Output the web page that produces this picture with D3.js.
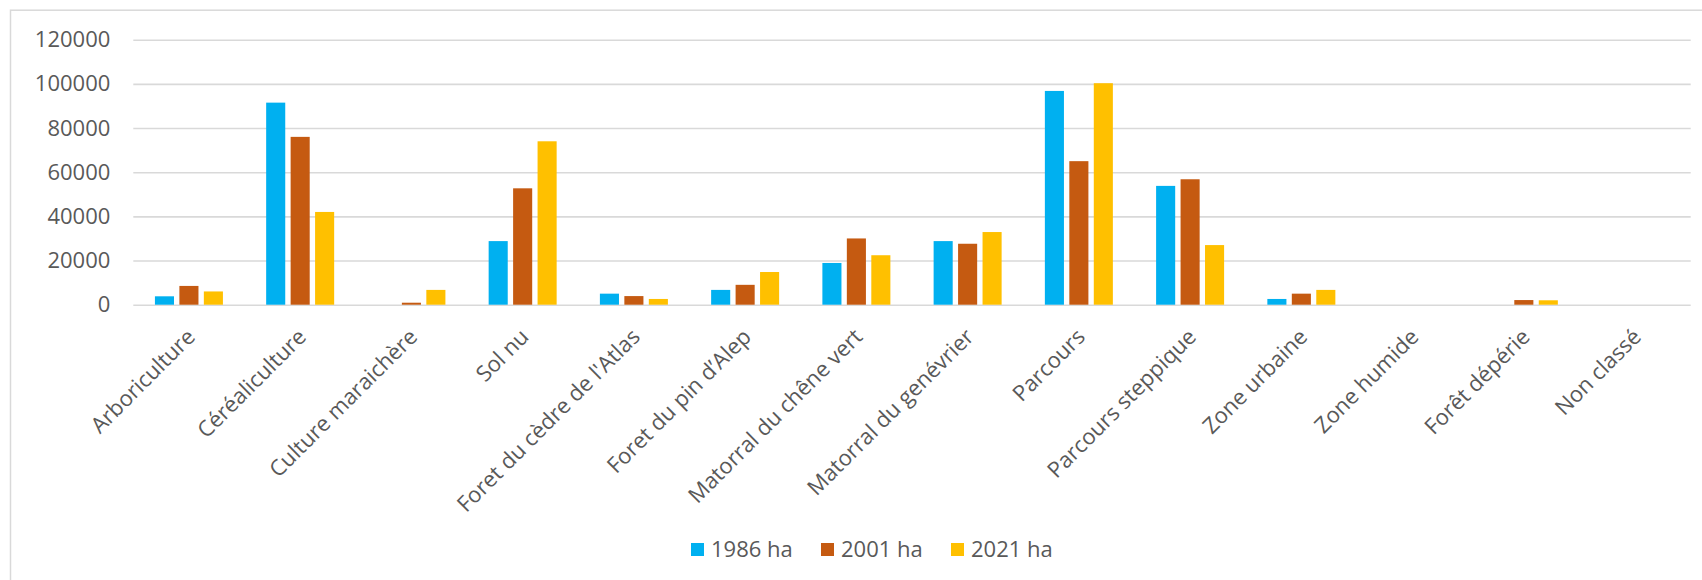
<!DOCTYPE html>
<html>
<head>
<meta charset="utf-8">
<script src="https://cdn.jsdelivr.net/npm/d3@7"></script>
<style>
    body { margin: 0; background: #fff; }
    svg { display: block; font-family: "Open Sans", sans-serif; }
    svg text { font-family: "Open Sans", sans-serif; }
</style>
</head>
<body>
<div id="chart"></div>
<script>
(function () {
    'use strict';

    // occupation du sol (ha)
    const categories = [
        'Arboriculture',
        'Céréaliculture',
        'Culture maraichère',
        'Sol nu',
        "Foret du cèdre de l'Atlas",
        'Foret du pin d’Alep',
        'Matorral du chêne vert',
        'Matorral du genévrier',
        'Parcours',
        'Parcours steppique',
        'Zone urbaine',
        'Zone humide',
        'Forêt dépérie',
        'Non classé'
    ];
    const seriesNames = ['1986 ha', '2001 ha', '2021 ha'];
    const v1986 = [3800, 91500, 0, 28800, 5000, 6700, 18900, 28800, 96800, 53800, 2600, 0, 0, 0];
    const v2001 = [8500, 76000, 900, 52700, 3900, 9000, 30000, 27600, 65000, 56800, 5000, 0, 2100, 0];
    const v2021 = [6000, 42000, 6700, 74000, 2600, 14800, 22400, 32900, 100300, 27000, 6700, 0, 2000, 0];
    const yTicks = [0, 20000, 40000, 60000, 80000, 100000, 120000];

    const colors = ['#00b0f0', '#c55a11', '#ffc000'];

    let width = 1702;
    let height = 580;
    let plot = { left: 133.3, right: 1690.7, top: 39.7, bottom: 304.7 };

    let data = categories.map(function (c, i) {
        return { cat: c, values: [v1986[i], v2001[i], v2021[i]] };
    });

    let svg = d3.select('#chart').append('svg')
        .attr('width', width)
        .attr('height', height);

    svg.append('rect')
        .attr('width', width)
        .attr('height', height)
        .style('fill', '#fff');

    // cadre du graphique
    svg.append('rect')
        .attr('x', 10.5)
        .attr('y', 10.2)
        .attr('width', width + 20)
        .attr('height', height + 20)
        .style('fill', 'none')
        .style('stroke', '#d9d9d9')
        .style('stroke-width', 1.5);

    let x0 = d3.scaleBand()
        .domain(categories)
        .range([plot.left, plot.right])
        .padding(0);

    let groupWidth = 68;
    let x1 = d3.scaleBand()
        .domain(seriesNames)
        .range([(x0.bandwidth() - groupWidth) / 2, (x0.bandwidth() + groupWidth) / 2])
        .paddingInner(0.22);

    let y = d3.scaleLinear()
        .domain([0, 120000])
        .range([plot.bottom, plot.top]);

    let yAxis = d3.axisLeft(y)
        .tickValues(yTicks)
        .tickSize(-(plot.right - plot.left))
        .tickPadding(23)
        .tickFormat(function (d) { return d.toString(); });

    let gy = svg.append('g')
        .attr('class', 'y-axis')
        .attr('transform', 'translate(' + plot.left + ',0)')
        .call(yAxis)
        .attr('font-family', null)
        .attr('font-size', null);
    gy.select('.domain').remove();
    gy.selectAll('line')
        .style('stroke', '#d9d9d9')
        .style('stroke-width', 1.6);
    gy.selectAll('text')
        .style('font-family', '"Open Sans", sans-serif')
        .style('font-size', '22px')
        .style('fill', '#595959');

    let groups = svg.append('g')
        .selectAll('g')
        .data(data)
        .enter()
        .append('g')
        .attr('transform', function (d) { return 'translate(' + x0(d.cat) + ',0)'; });

    groups.selectAll('rect')
        .data(function (d) {
            return d.values.map(function (v, k) { return { name: seriesNames[k], value: v, k: k }; });
        })
        .enter()
        .append('rect')
        .filter(function (d) { return d.value > 0; })
        .attr('x', function (d) { return x1(d.name); })
        .attr('y', function (d) { return y(d.value); })
        .attr('width', x1.bandwidth())
        .attr('height', function (d) { return y(0) - y(d.value); })
        .style('fill', function (d) { return colors[d.k]; });

    // libellés des catégories, inclinés
    let xAxis = d3.axisBottom(x0)
        .tickSize(0)
        .tickPadding(0);
    let gx = svg.append('g')
        .attr('class', 'x-axis')
        .attr('transform', 'translate(0,' + plot.bottom + ')')
        .call(xAxis)
        .attr('font-family', null)
        .attr('font-size', null);
    gx.select('.domain').remove();
    gx.selectAll('text')
        .attr('text-anchor', 'end')
        .attr('y', 0)
        .attr('dy', '0.35em')
        .attr('transform', 'translate(2,28) rotate(-45)')
        .style('font-family', '"Open Sans", sans-serif')
        .style('font-size', '22px')
        .style('fill', '#595959');

    // légende
    let legend = svg.append('g')
        .selectAll('g')
        .data(seriesNames)
        .enter()
        .append('g')
        .attr('transform', function (d, i) { return 'translate(' + (691 + i * 130) + ',543)'; });
    legend.append('rect')
        .attr('width', 13)
        .attr('height', 13)
        .style('fill', function (d, i) { return colors[i]; });
    legend.append('text')
        .attr('x', 20)
        .attr('y', 6.5)
        .attr('dy', '0.35em')
        .style('font-size', '22px')
        .style('fill', '#595959')
        .text(function (d) { return d; });
})();
</script>
</body>
</html>
